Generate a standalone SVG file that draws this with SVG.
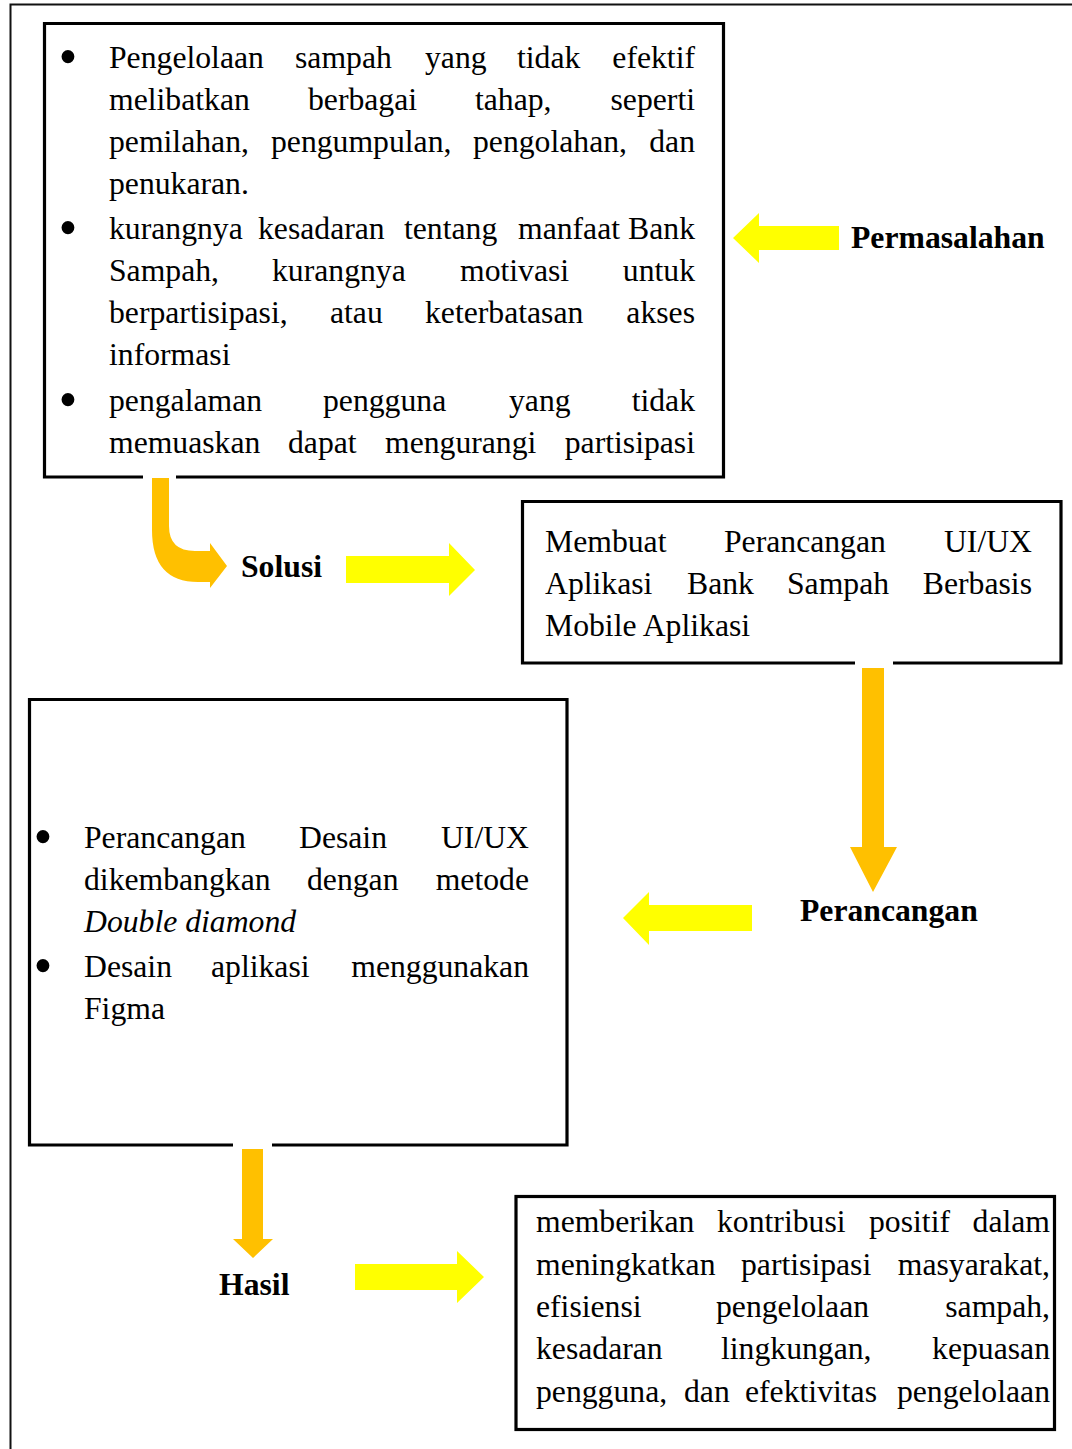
<svg xmlns="http://www.w3.org/2000/svg" width="1072" height="1449" viewBox="0 0 1072 1449">
<style>
.t{font-family:"Liberation Serif","Times New Roman",serif;font-size:31.7px;fill:#000}
.b{font-family:"Liberation Serif","Times New Roman",serif;font-size:31.7px;font-weight:bold;fill:#000}
.bl{font-family:"Liberation Serif","Times New Roman",serif;font-size:54px;fill:#000;text-anchor:middle}
.e{text-anchor:end}
.m{text-anchor:middle}
.box{fill:none;stroke:#000;stroke-width:3.2}
.yel{fill:#FFFF00}
.org{fill:#FFC000}
</style>
<rect x="0" y="0" width="1072" height="1449" fill="#fff"/>
<path d="M10.5,1449 L10.5,4.5 L1072,4.5" fill="none" stroke="#111" stroke-width="2"/>

<g id="node-permasalahan-box">
<path class="box" d="M143,477 L44.5,477 L44.5,23.5 L723.5,23.5 L723.5,477 L176,477"/>
<text class="bl" x="68" y="75">•</text>
<text class="t" x="109" y="68">Pengelolaan</text><text class="t" x="295" y="68">sampah</text><text class="t" x="425" y="68">yang</text><text class="t" x="517" y="68">tidak</text><text class="t e" x="695" y="68">efektif</text>
<text class="t" x="109" y="110">melibatkan</text><text class="t" x="308" y="110">berbagai</text><text class="t" x="475" y="110">tahap,</text><text class="t e" x="695" y="110">seperti</text>
<text class="t" x="109" y="152">pemilahan,</text><text class="t" x="271" y="152">pengumpulan,</text><text class="t" x="473" y="152">pengolahan,</text><text class="t e" x="695" y="152">dan</text>
<text class="t" x="109" y="194">penukaran.</text>
<text class="bl" x="68" y="246">•</text>
<text class="t" x="109" y="239">kurangnya</text><text class="t" x="258" y="239">kesadaran</text><text class="t" x="404" y="239">tentang</text><text class="t" x="518" y="239">manfaat</text><text class="t e" x="695" y="239">Bank</text>
<text class="t" x="109" y="281">Sampah,</text><text class="t" x="272" y="281">kurangnya</text><text class="t" x="460" y="281">motivasi</text><text class="t e" x="695" y="281">untuk</text>
<text class="t" x="109" y="323">berpartisipasi,</text><text class="t" x="330" y="323">atau</text><text class="t" x="425" y="323">keterbatasan</text><text class="t e" x="695" y="323">akses</text>
<text class="t" x="109" y="365">informasi</text>
<text class="bl" x="68" y="418">•</text>
<text class="t" x="109" y="411">pengalaman</text><text class="t" x="323" y="411">pengguna</text><text class="t" x="509" y="411">yang</text><text class="t e" x="695" y="411">tidak</text>
<text class="t" x="109" y="453">memuaskan</text><text class="t" x="288" y="453">dapat</text><text class="t" x="385" y="453">mengurangi</text><text class="t e" x="695" y="453">partisipasi</text>
</g>

<g id="node-label-permasalahan">
<text class="b" x="851" y="248">Permasalahan</text>
</g>

<g id="node-label-solusi">
<text class="b" x="241" y="577">Solusi</text>
</g>

<g id="node-solusi-box">
<path class="box" d="M855,663 L522.5,663 L522.5,501.5 L1061,501.5 L1061,663 L893,663"/>
<text class="t" x="545" y="552">Membuat</text><text class="t" x="724" y="552">Perancangan</text><text class="t e" x="1032" y="552">UI/UX</text>
<text class="t" x="545" y="594">Aplikasi</text><text class="t" x="687" y="594">Bank</text><text class="t" x="787" y="594">Sampah</text><text class="t e" x="1032" y="594">Berbasis</text>
<text class="t" x="545" y="636">Mobile Aplikasi</text>
</g>

<g id="node-label-perancangan">
<text class="b" x="800" y="921">Perancangan</text>
</g>

<g id="node-perancangan-box">
<path class="box" d="M233,1145 L29.5,1145 L29.5,699.5 L567,699.5 L567,1145 L272,1145"/>
<text class="bl" x="43" y="855">•</text>
<text class="t" x="84" y="848">Perancangan</text><text class="t" x="299" y="848">Desain</text><text class="t e" x="529" y="848">UI/UX</text>
<text class="t" x="84" y="890">dikembangkan</text><text class="t" x="307" y="890">dengan</text><text class="t e" x="529" y="890">metode</text>
<text class="t" x="84" y="932" font-style="italic">Double diamond</text>
<text class="bl" x="43" y="984">•</text>
<text class="t" x="84" y="977">Desain</text><text class="t" x="211" y="977">aplikasi</text><text class="t e" x="529" y="977">menggunakan</text>
<text class="t" x="84" y="1019">Figma</text>
</g>

<g id="node-label-hasil">
<text class="b" x="219" y="1295">Hasil</text>
</g>

<g id="node-hasil-box">
<rect class="box" x="516" y="1196.5" width="538.5" height="233" stroke-width="4"/>
<text class="t" x="536" y="1232">memberikan</text><text class="t" x="717" y="1232">kontribusi</text><text class="t" x="869" y="1232">positif</text><text class="t e" x="1050" y="1232">dalam</text>
<text class="t" x="536" y="1275">meningkatkan</text><text class="t" x="741" y="1275">partisipasi</text><text class="t e" x="1050" y="1275">masyarakat,</text>
<text class="t" x="536" y="1317">efisiensi</text><text class="t" x="716" y="1317">pengelolaan</text><text class="t e" x="1050" y="1317">sampah,</text>
<text class="t" x="536" y="1359">kesadaran</text><text class="t" x="721" y="1359">lingkungan,</text><text class="t e" x="1050" y="1359">kepuasan</text>
<text class="t" x="536" y="1402">pengguna,</text><text class="t" x="684" y="1402">dan</text><text class="t" x="745" y="1402">efektivitas</text><text class="t e" x="1050" y="1402">pengelolaan</text>
</g>

<g id="connectors">
<path class="yel" d="M839,226 L759,226 L759,213 L733,238 L759,263 L759,250 L839,250 Z"/>
<path class="org" d="M152,478 L169,478 L169,526 Q169,551 195,551 L210,551 L210,543 L227,566 L210,588 L210,582 L198,582 Q152,582 152,530 Z"/>
<path class="yel" d="M346,556 L449,556 L449,543 L475,570 L449,596 L449,583 L346,583 Z"/>
<path class="org" d="M862,668 L884,668 L884,847 L897,847 L873,892 L850,847 L862,847 Z"/>
<path class="yel" d="M752,905 L649,905 L649,892 L623,918 L649,945 L649,931 L752,931 Z"/>
<path class="org" d="M242,1149 L263,1149 L263,1239 L273,1239 L253,1258 L233,1239 L242,1239 Z"/>
<path class="yel" d="M355,1264 L457,1264 L457,1251 L484,1277 L457,1303 L457,1290 L355,1290 Z"/>
</g>
</svg>
